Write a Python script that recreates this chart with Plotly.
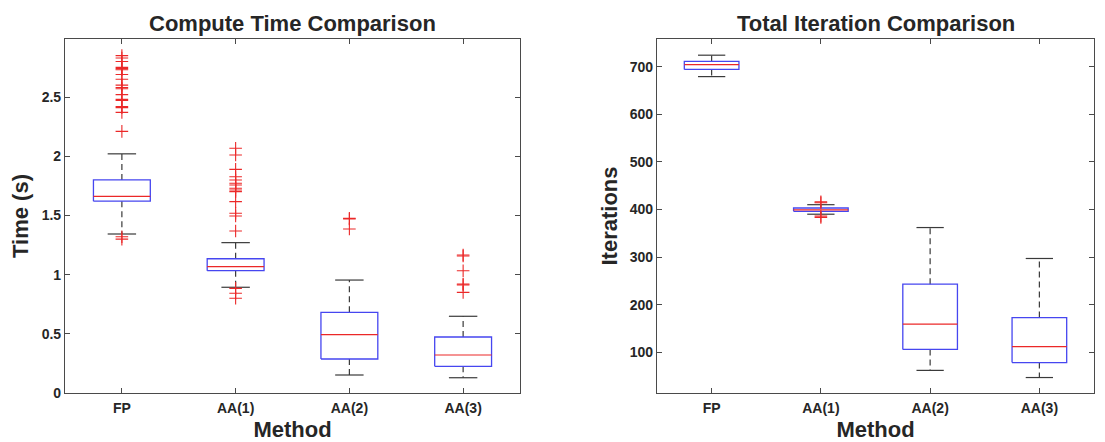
import plotly.graph_objects as go

# ---- data ----
methods = ["FP", "AA(1)", "AA(2)", "AA(3)"]

# Compute time (s): box-plot statistics per method
time_q1 = [1.62, 1.033, 0.287, 0.225]
time_median = [1.66, 1.067, 0.493, 0.321]
time_q3 = [1.80, 1.134, 0.681, 0.473]
time_lo = [1.343, 0.893, 0.152, 0.129]
time_hi = [2.02, 1.27, 0.954, 0.648]
time_outliers = [
    [2.85, 2.83, 2.80, 2.75, 2.74, 2.73, 2.69, 2.65, 2.60, 2.58, 2.57, 2.52,
     2.48, 2.47, 2.42, 2.41, 2.37, 2.21, 1.32, 1.30],
    [2.067, 2.010, 1.889, 1.827, 1.799, 1.771, 1.757, 1.729, 1.715, 1.701,
     1.616, 1.518, 1.495, 1.368, 0.884, 0.842, 0.800],
    [1.475, 1.47, 1.385],
    [1.166, 1.157, 1.033, 0.921, 0.913, 0.850],
]

# Total iterations: box-plot statistics per method
iter_q1 = [694, 396, 106, 78.5]
iter_median = [704, 399, 159, 112]
iter_q3 = [711, 403, 243, 173]
iter_lo = [679, 390, 62, 47]
iter_hi = [724, 410, 362, 297]
iter_outliers = [
    [],
    [416, 414, 386, 383],
    [],
    [],
]

time_ticks = [0, 0.5, 1, 1.5, 2, 2.5]
time_ticktext = ["0", "0.5", "1", "1.5", "2", "2.5"]
iter_ticks = [100, 200, 300, 400, 500, 600, 700]

# ---- style ----
BOX_HALF = 0.25
CAP_HALF = 0.125
BLUE = "rgb(70,70,240)"
RED = "rgb(235,40,40)"
WHISK = "#3a3a3a"
FONT = "Liberation Sans, Arial, sans-serif"
TXT = "#262626"


def box_traces(q1, med, q3, lo, hi, outl, xa, ya):
    bx, by, mx, my, wx, wy, cx, cy, ox, oy = ([] for _ in range(10))
    for i in range(len(q1)):
        x = i + 1
        bx += [x - BOX_HALF, x + BOX_HALF, x + BOX_HALF, x - BOX_HALF, x - BOX_HALF, None]
        by += [q1[i], q1[i], q3[i], q3[i], q1[i], None]
        mx += [x - BOX_HALF, x + BOX_HALF, None]
        my += [med[i], med[i], None]
        wx += [x, x, None, x, x, None]
        wy += [q3[i], hi[i], None, q1[i], lo[i], None]
        cx += [x - CAP_HALF, x + CAP_HALF, None, x - CAP_HALF, x + CAP_HALF, None]
        cy += [hi[i], hi[i], None, lo[i], lo[i], None]
        for v in outl[i]:
            ox.append(x)
            oy.append(v)
    common = dict(xaxis=xa, yaxis=ya, showlegend=False, hoverinfo="skip")
    return [
        go.Scatter(x=wx, y=wy, mode="lines",
                   line=dict(color=WHISK, width=1.2, dash="6px,4px"), **common),
        go.Scatter(x=cx, y=cy, mode="lines",
                   line=dict(color=WHISK, width=1.2), **common),
        go.Scatter(x=bx, y=by, mode="lines",
                   line=dict(color=BLUE, width=1.3), **common),
        go.Scatter(x=mx, y=my, mode="lines",
                   line=dict(color=RED, width=1.2), **common),
        go.Scatter(x=ox, y=oy, mode="markers",
                   marker=dict(symbol="cross-thin", size=9,
                               line=dict(color=RED, width=1.1)), **common),
    ]


fig = go.Figure()
for t in box_traces(time_q1, time_median, time_q3, time_lo, time_hi,
                    time_outliers, "x", "y"):
    fig.add_trace(t)
for t in box_traces(iter_q1, iter_median, iter_q3, iter_lo, iter_hi,
                    iter_outliers, "x2", "y2"):
    fig.add_trace(t)

W, H = 1105, 442
ydom = [1 - 393 / H, 1 - 39 / H]

axis_common = dict(
    showgrid=False, zeroline=False, showline=True, linecolor="#4a4a4a",
    linewidth=1.2, mirror="ticks", ticks="inside", ticklen=5,
    tickcolor="#4a4a4a", tickwidth=1, automargin=False,
    tickfont=dict(family=FONT, size=14, color=TXT, weight="bold"),
)
title_font = dict(family=FONT, size=22, color=TXT, weight="bold")

fig.update_layout(
    width=W, height=H,
    margin=dict(l=0, r=0, t=0, b=0, autoexpand=False),
    paper_bgcolor="white", plot_bgcolor="white",
    xaxis=dict(domain=[65 / W, 520 / W], anchor="y", range=[0.5, 4.5],
               tickvals=[1, 2, 3, 4], ticktext=methods, ticklabelstandoff=2,
               title=dict(text="Method", font=title_font, standoff=11),
               **axis_common),
    yaxis=dict(domain=ydom, anchor="x", range=[0, 2.99],
               tickvals=time_ticks, ticktext=time_ticktext,
               title=dict(text="Time (s)", font=title_font, standoff=6),
               **axis_common),
    xaxis2=dict(domain=[657 / W, 1094 / W], anchor="y2", range=[0.5, 4.5],
                tickvals=[1, 2, 3, 4], ticktext=methods, ticklabelstandoff=2,
                title=dict(text="Method", font=title_font, standoff=11),
                **axis_common),
    yaxis2=dict(domain=ydom, anchor="x2", range=[14.5, 758],
                tickvals=iter_ticks,
                title=dict(text="Iterations", font=title_font, standoff=6),
                **axis_common),
    annotations=[
        dict(text="Compute Time Comparison", x=(65 + 520) / 2 / W, y=1 - 23 / H,
             xref="paper", yref="paper", showarrow=False,
             xanchor="center", yanchor="middle", font=title_font),
        dict(text="Total Iteration Comparison", x=(657 + 1094) / 2 / W, y=1 - 23 / H,
             xref="paper", yref="paper", showarrow=False,
             xanchor="center", yanchor="middle", font=title_font),
    ],
)

fig.write_html("out.html")
